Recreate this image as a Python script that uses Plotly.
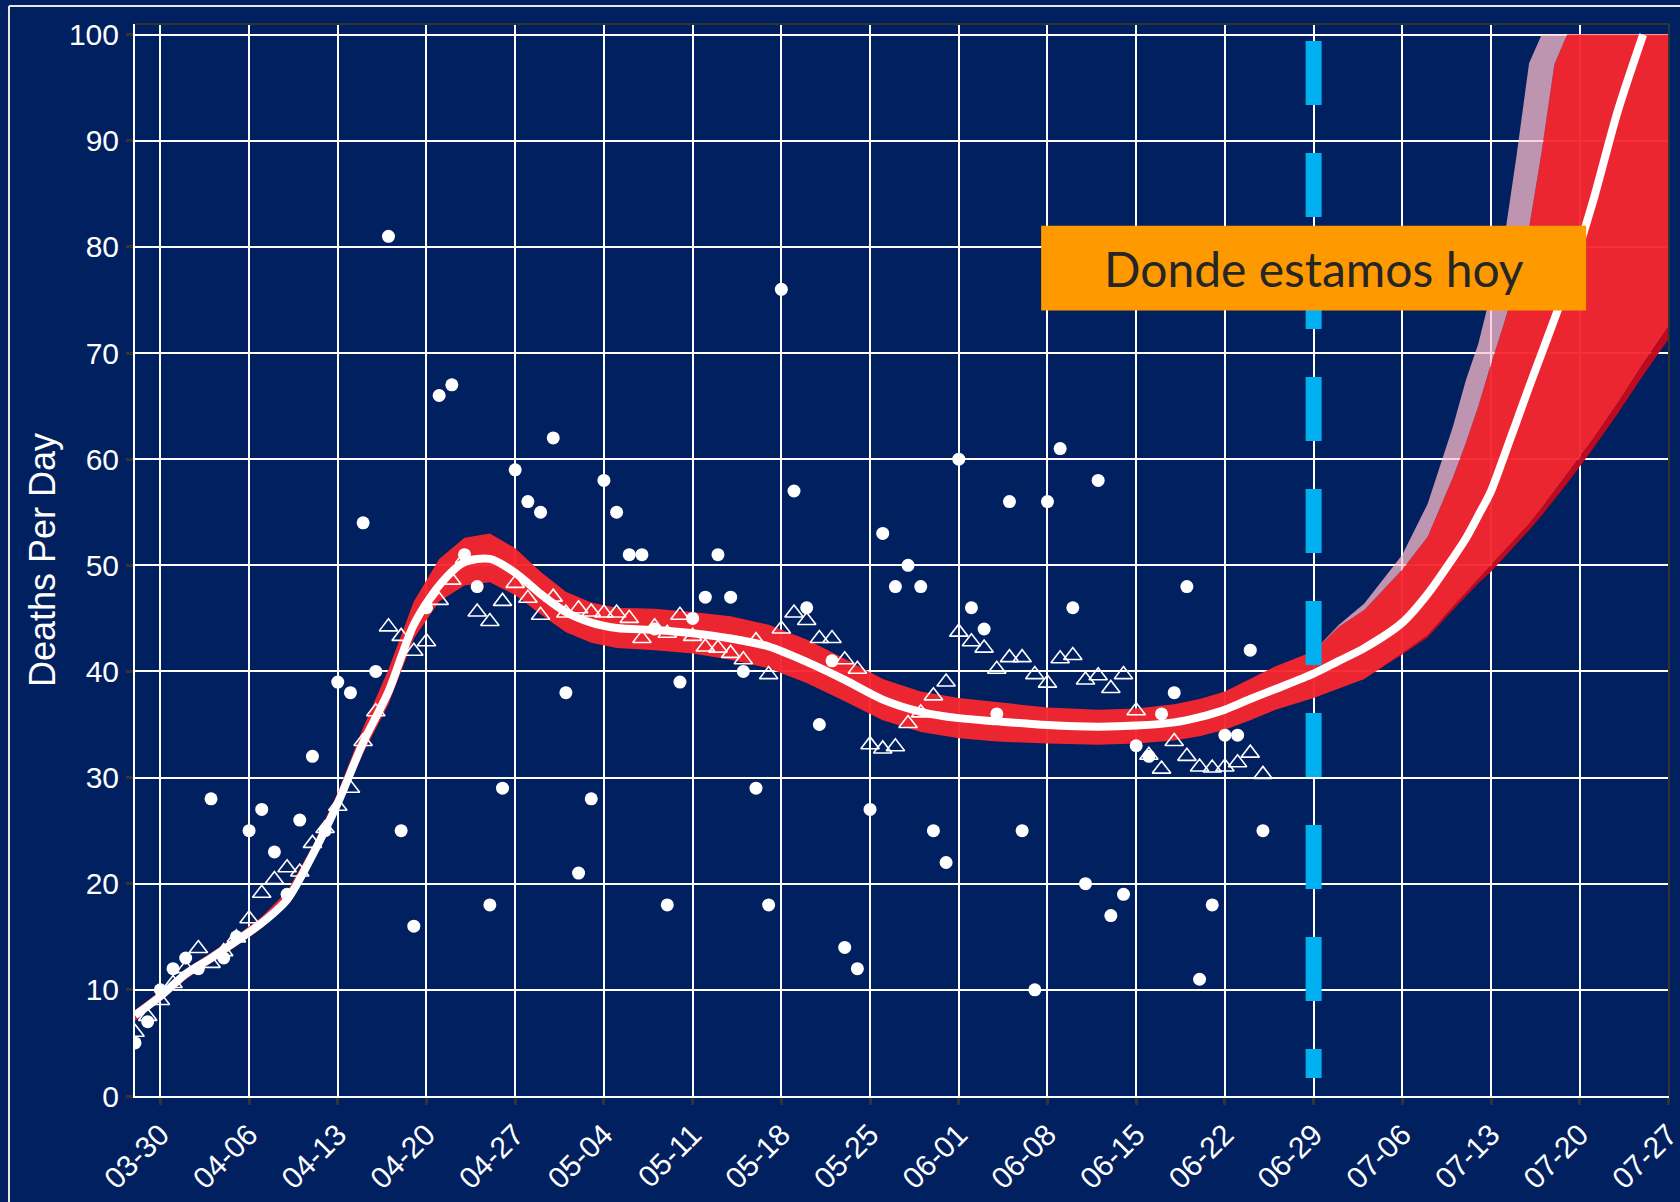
import pandas as pd
import plotly.graph_objects as go

# ---------------- data ----------------
obs_dates = pd.date_range("2020-03-28", "2020-06-25", freq="D")

daily_deaths = [5, 7, 10, 12, 13, 12, 28, 13, 15, 25, 27, 23, 19, 26, 32, 25, 39, 38, 54, 40,
                81, 25, 16, 46, 66, 67, 51, 48, 18, 29, 59, 56, 55, 62, 38, 21, 28, 58, 55, 51,
                51, 44, 18, 39, 45, 47, 51, 47, 40, 29, 18, 76, 57, 46, 35, 41, 14, 12, 27, 53,
                48, 50, 48, 25, 22, 60, 46, 44, 36, 56, 25, 10, 56, 61, 46, 20, 58, 17, 19, 33,
                32, 36, 38, 48, 11, 18, 34, 34, 42, 25]

avg_deaths = [6.0, 7.5, 9.0, 10.6, 12.0, 13.9, 12.5, 13.6, 14.9, 16.7, 19.1, 20.4, 21.5, 21.1, 23.8,
              25.2, 27.3, 29.0, 33.4, 36.2, 44.2, 43.3, 41.9, 42.8, 46.7, 48.6, 50.6, 45.6, 44.7, 46.6,
              48.3, 46.9, 45.3, 47.0, 45.5, 45.9, 45.6, 45.5, 45.5, 45.0, 43.1, 44.2, 43.6, 45.3, 43.3,
              42.3, 42.2, 41.7, 41.1, 42.9, 39.7, 44.0, 45.5, 44.8, 43.1, 43.1, 41.1, 40.2, 33.1, 32.7,
              32.9, 35.1, 36.1, 37.7, 39.0, 43.7, 42.8, 42.2, 40.2, 41.3, 41.3, 39.7, 38.9, 41.2, 41.5,
              39.2, 39.6, 38.4, 39.7, 36.3, 32.1, 30.8, 33.4, 32.0, 31.0, 30.9, 31.0, 31.4, 32.3, 30.3]

curve_dates = ["2020-03-28", "2020-03-30", "2020-04-01", "2020-04-03", "2020-04-05", "2020-04-07",
               "2020-04-09", "2020-04-11", "2020-04-13", "2020-04-15", "2020-04-17", "2020-04-19",
               "2020-04-21", "2020-04-23", "2020-04-25", "2020-04-27", "2020-04-29", "2020-05-01",
               "2020-05-03", "2020-05-05", "2020-05-08", "2020-05-11", "2020-05-14", "2020-05-17",
               "2020-05-20", "2020-05-23", "2020-05-26", "2020-05-29", "2020-06-01", "2020-06-04",
               "2020-06-08", "2020-06-12", "2020-06-15", "2020-06-18", "2020-06-20", "2020-06-22",
               "2020-06-24", "2020-06-26", "2020-06-29", "2020-07-01", "2020-07-03", "2020-07-06",
               "2020-07-08", "2020-07-10", "2020-07-11", "2020-07-12", "2020-07-13", "2020-07-14",
               "2020-07-15", "2020-07-16", "2020-07-17", "2020-07-18", "2020-07-19", "2020-07-21",
               "2020-07-23", "2020-07-25", "2020-07-27"]

fit = [7.6, 9.4, 11.5, 13.0, 14.6, 16.3, 18.5, 22.7, 27.6, 33.3, 38.1, 44.4, 48.1, 50.3, 50.6,
       49.3, 47.3, 45.6, 44.6, 44.1, 43.9, 43.6, 43.1, 42.35, 40.9, 39.2, 37.35, 36.2, 35.6, 35.3,
       34.95, 34.8, 34.9, 35.2, 35.7, 36.4, 37.4, 38.35, 39.8, 41.0, 42.2, 44.6, 47.3, 50.7, 52.5,
       54.7, 57.0, 60.2, 63.5, 66.8, 70.0, 73.2, 76.5, 84.1, 92.8, 100.0, None]

band_lo = [7.1, 8.9, 11.0, 12.5, 14.1, 15.8, 18.0, 22.0, 26.8, 32.3, 36.9, 43.1, 46.6, 48.1, 48.4,
           47.2, 45.4, 43.7, 42.7, 42.2, 42.0, 41.7, 41.1, 40.3, 38.9, 37.2, 35.4, 34.3, 33.7, 33.4,
           33.2, 33.1, 33.2, 33.5, 33.9, 34.5, 35.4, 36.4, 37.5, 38.4, 39.3, 41.7, 43.4, 46.1, 47.4,
           48.7, 49.9, 51.2, 52.5, 53.9, 55.4, 57.0, 58.5, 61.8, 65.3, 69.0, 72.5]

band_hi = [8.1, 9.9, 12.0, 13.5, 15.1, 16.9, 19.3, 23.5, 28.6, 34.7, 40.2, 46.6, 50.6, 52.6, 53.0,
           51.6, 49.4, 47.5, 46.5, 46.0, 45.9, 45.6, 45.2, 44.4, 43.0, 41.2, 39.3, 38.1, 37.5, 37.1,
           36.6, 36.4, 36.5, 36.9, 37.4, 38.1, 39.3, 40.5, 41.9, 44.2, 45.8, 49.6, 52.7, 58.3, 61.5,
           65.0, 69.0, 72.7, 76.8, 81.8, 89.0, 97.2, 100, 100, 100, 100, 100]

# projection scenarios (from 06-29 on, same dates as curve_dates[38:])
proj_start = 38
upper_scenario = [41.9, 44.4, 46.4, 51.0, 55.8, 63.1, 67.4, 70.9, 75.7, 80.4, 88.5, 97.3,
                  100, 100, 100, 100, 100, 100, 100]
lower_scenario = [37.5, 38.4, 39.3, 41.6, 43.2, 45.8, 47.0, 48.3, 49.4, 50.7, 51.9, 53.3,
                  54.7, 56.2, 57.7, 60.9, 64.3, 67.9, 71.3]

today = "2020-06-29"
label_text = "Donde estamos hoy"

# ---------------- styling ----------------
BG = "#002060"
RED = "rgba(246,38,46,0.96)"
MAUVE = "rgba(255,190,205,0.74)"
DARKRED = "rgba(198,8,28,0.96)"
TICKFONT = dict(family="Liberation Sans, Arial, sans-serif", size=30, color="white")

proj_dates = curve_dates[proj_start:]

fig = go.Figure()

# main confidence band
fig.add_trace(go.Scatter(x=curve_dates, y=band_lo, mode="lines", line=dict(width=0),
                         hoverinfo="skip", showlegend=False))
fig.add_trace(go.Scatter(x=curve_dates, y=band_hi, mode="lines", line=dict(width=0),
                         fill="tonexty", fillcolor=RED, hoverinfo="skip", showlegend=False))
# upper scenario sliver
fig.add_trace(go.Scatter(x=proj_dates, y=band_hi[proj_start:], mode="lines", line=dict(width=0),
                         hoverinfo="skip", showlegend=False))
fig.add_trace(go.Scatter(x=proj_dates, y=upper_scenario, mode="lines", line=dict(width=0),
                         fill="tonexty", fillcolor=MAUVE, hoverinfo="skip", showlegend=False))
# lower scenario strip
fig.add_trace(go.Scatter(x=proj_dates, y=lower_scenario, mode="lines", line=dict(width=0),
                         hoverinfo="skip", showlegend=False))
fig.add_trace(go.Scatter(x=proj_dates, y=band_lo[proj_start:], mode="lines", line=dict(width=0),
                         fill="tonexty", fillcolor=DARKRED, hoverinfo="skip", showlegend=False))

# observations
fig.add_trace(go.Scatter(x=obs_dates, y=daily_deaths, mode="markers",
                         marker=dict(symbol="circle", size=13, color="white", line=dict(width=0)),
                         showlegend=False))
fig.add_trace(go.Scatter(x=obs_dates, y=avg_deaths, mode="markers",
                         marker=dict(symbol="triangle-up-open", size=16, color="white",
                                     line=dict(width=1.6, color="white")),
                         showlegend=False))

# fitted / projected curve
fig.add_trace(go.Scatter(x=curve_dates, y=fit, mode="lines",
                         line=dict(color="white", width=8, shape="spline", smoothing=0.8),
                         connectgaps=False, showlegend=False))

# ---------------- layout ----------------
L, R, T, B = 135, 11, 24, 106
W, H = 1680, 1202
pw, ph = W - L - R, H - T - B

def px_x(px):
    return (px - L) / pw

def px_y(py):
    return (H - B - py) / ph

shapes = [
    # outer slide frame (left and top edges)
    dict(type="line", xref="paper", yref="paper", x0=px_x(9), x1=px_x(9), y0=px_y(1300), y1=px_y(6),
         line=dict(color="#e6e6e6", width=2), layer="above"),
    dict(type="line", xref="paper", yref="paper", x0=px_x(9), x1=px_x(1800), y0=px_y(6), y1=px_y(6),
         line=dict(color="#e6e6e6", width=2), layer="above"),
    # panel border top / right
    dict(type="line", xref="paper", yref="paper", x0=0, x1=1, y0=1, y1=1,
         line=dict(color="#333333", width=2), layer="above"),
    dict(type="line", xref="paper", yref="paper", x0=1, x1=1, y0=0, y1=1,
         line=dict(color="#333333", width=2), layer="above"),
    # "today" dashed line
    dict(type="line", xref="x", yref="y", x0=today, x1=today, y0=99.4, y1=1.7,
         line=dict(color="#00B0F0", width=16, dash="64px,48px"), layer="above"),
    # label box
    dict(type="rect", xref="x", yref="y", x0="2020-06-07 12:00", x1="2020-07-20 12:00",
         y0=74, y1=82, fillcolor="#FF9900", line=dict(width=0), layer="above"),
]

fig.update_layout(
    width=W, height=H,
    margin=dict(l=L, r=R, t=T, b=B, pad=0, autoexpand=False),
    paper_bgcolor=BG, plot_bgcolor=BG,
    showlegend=False,
    shapes=shapes,
    annotations=[dict(x=today, y=78, xref="x", yref="y", text=label_text, showarrow=False,
                      xanchor="center", yanchor="middle",
                      font=dict(family="Lato, Open Sans, sans-serif", size=48, color="#262626"))],
    xaxis=dict(type="date", range=["2020-03-28", "2020-07-27 01:00"], automargin=False,
               tick0="2020-03-30", dtick=7 * 86400000, tickformat="%m-%d", tickangle=-45,
               showgrid=True, gridcolor="white", gridwidth=2,
               ticks="outside", ticklen=7, tickwidth=2.5, tickcolor="#333333",
               showline=True, linecolor="white", linewidth=2, zeroline=False,
               tickfont=TICKFONT, ticklabeloverflow="allow"),
    yaxis=dict(range=[0, 101], tick0=0, dtick=10, automargin=False,
               showgrid=True, gridcolor="white", gridwidth=2,
               ticks="outside", ticklen=7, tickwidth=2.5, tickcolor="#333333",
               showline=True, linecolor="white", linewidth=2, zeroline=False,
               tickfont=TICKFONT, ticklabelstandoff=1,
               title=dict(text="Deaths Per Day", standoff=2,
                          font=dict(family="Liberation Sans, Arial, sans-serif", size=36,
                                    color="white"))),
)

fig.write_html("out.html",
               config={"displayModeBar": False},
               post_script="document.body.style.margin='0px';"
                           "document.body.style.background='#002060';")
